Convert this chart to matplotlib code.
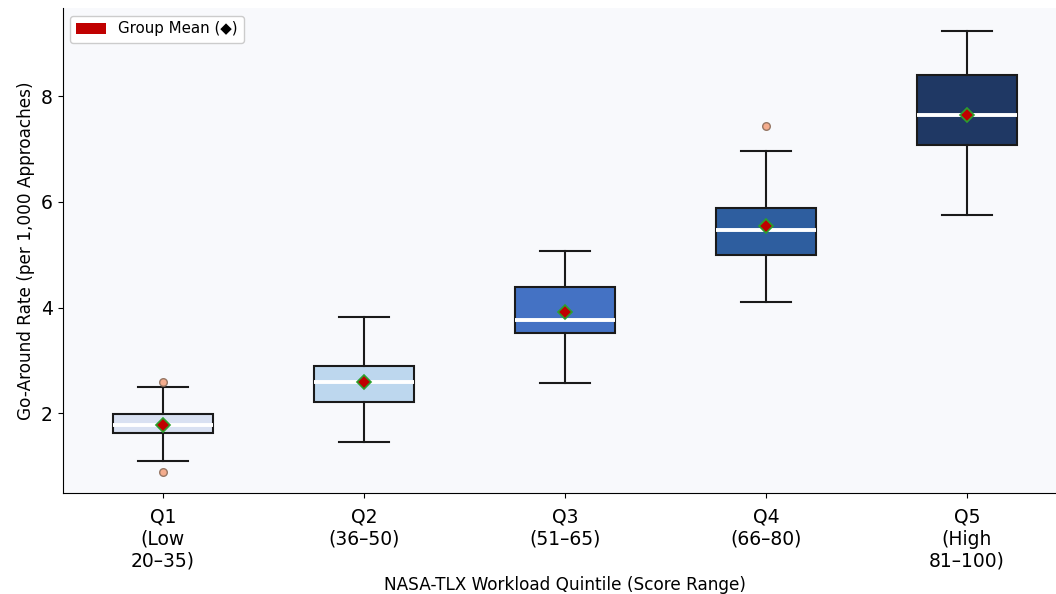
import matplotlib.pyplot as plt
from matplotlib.patches import Patch

# =========================
# DATA
# =========================
labels = ["Q1\n(Low\n20–35)", "Q2\n(36–50)", "Q3\n(51–65)", "Q4\n(66–80)", "Q5\n(High\n81–100)"]
whislo = [1.09, 1.45, 2.57, 4.10, 5.75]
q1 = [1.62, 2.21, 3.51, 4.99, 7.07]
med = [1.77, 2.60, 3.76, 5.47, 7.64]
q3 = [1.98, 2.89, 4.39, 5.88, 8.40]
whishi = [2.49, 3.83, 5.07, 6.96, 9.24]
means = [1.77, 2.60, 3.91, 5.54, 7.64]
fliers = [[0.88, 2.60], [], [], [7.43], []]
box_colors = ["#d9e1f2", "#bdd7ee", "#4472c4", "#2e5e9f", "#1f3864"]

stats = []
for i in range(len(labels)):
    stats.append(dict(label=labels[i], whislo=whislo[i], q1=q1[i], med=med[i],
                      q3=q3[i], whishi=whishi[i], mean=means[i], fliers=fliers[i]))

# =========================
# PLOT
# =========================
fig = plt.figure(figsize=(10.56, 5.94), dpi=100)
ax = fig.add_axes([62.5 / 1056, 101 / 594, 1005 / 1056, 485 / 594])
ax.set_facecolor("#f8f9fc")

bp = ax.bxp(stats, positions=range(len(labels)), widths=0.5, patch_artist=True,
            showmeans=True,
            boxprops=dict(edgecolor="#1a1a1a", linewidth=1.5),
            whiskerprops=dict(color="#1a1a1a", linewidth=1.5),
            capprops=dict(color="#1a1a1a", linewidth=1.5),
            medianprops=dict(color="white", linewidth=2.8),
            meanprops=dict(marker="D", markerfacecolor="#c00000",
                           markeredgecolor="#2ca02c", markersize=7, markeredgewidth=1.2),
            flierprops=dict(marker="o", markerfacecolor="#f4a582",
                            markeredgecolor="#8c6d5a", markersize=5.5, alpha=0.9))

for patch, c in zip(bp["boxes"], box_colors):
    patch.set_facecolor(c)

ax.set_xlim(-0.5, 4.5)
ax.set_ylim(0.49, 9.67)
ax.set_yticks([2, 4, 6, 8])
ax.tick_params(axis="both", labelsize=13.5)
ax.tick_params(axis="x", pad=7)
ax.set_xlabel("NASA-TLX Workload Quintile (Score Range)", fontsize=12.2)
ax.set_ylabel("Go-Around Rate (per 1,000 Approaches)", fontsize=12.2)
ax.spines["top"].set_visible(False)
ax.spines["right"].set_visible(False)

ax.legend(handles=[Patch(facecolor="#c00000", label="Group Mean (◆)")],
          loc="upper left", fontsize=10.8, framealpha=1)

fig.savefig("out.png", dpi=100)
